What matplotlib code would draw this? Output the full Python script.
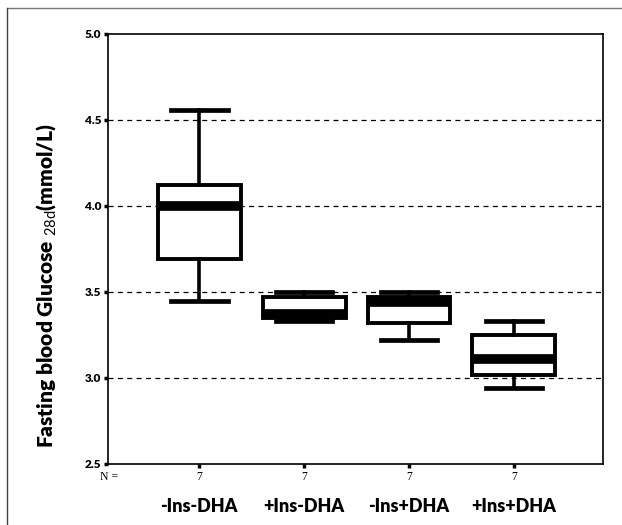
import matplotlib
matplotlib.use("Agg")
import matplotlib.pyplot as plt
from matplotlib.lines import Line2D

categories = ["-Ins-DHA", "+Ins-DHA", "-Ins+DHA", "+Ins+DHA"]
n_values = [7, 7, 7, 7]
whisker_low = [3.45, 3.33, 3.22, 2.94]
q1 = [3.69, 3.35, 3.32, 3.02]
median = [4.00, 3.37, 3.44, 3.11]
q3 = [4.12, 3.47, 3.47, 3.25]
whisker_high = [4.56, 3.50, 3.50, 3.33]
yticks = [2.5, 3.0, 3.5, 4.0, 4.5, 5.0]
grid_levels = [3.0, 3.5, 4.0, 4.5]

plt.rcParams['mathtext.fontset'] = 'custom'
plt.rcParams['mathtext.rm'] = 'Lato'
plt.rcParams['mathtext.bf'] = 'Lato:bold'

fig = plt.figure(figsize=(6.22, 5.25), dpi=100)
ax = fig.add_axes([108/622, 1-464/525, (603-108)/622, (464-34)/525])

# outer frame (top and left only)
fig.add_artist(Line2D([8/622, 1.0], [1-8/525, 1-8/525], transform=fig.transFigure,
                      color='#777777', linewidth=1.0))
fig.add_artist(Line2D([7/622, 7/622], [0.0, 1-8/525], transform=fig.transFigure,
                      color='#444444', linewidth=1.0))

stats = []
for i, c in enumerate(categories):
    stats.append(dict(label=c, whislo=whisker_low[i], q1=q1[i], med=median[i],
                      q3=q3[i], whishi=whisker_high[i], fliers=[]))

positions = list(range(1, len(categories)+1))
ax.bxp(stats, positions=positions, widths=0.79, showfliers=False,
       patch_artist=True,
       boxprops=dict(facecolor='white', edgecolor='black', linewidth=2.8),
       medianprops=dict(color='black', linewidth=7, solid_capstyle='butt'),
       whiskerprops=dict(color='black', linewidth=2.6),
       capprops=dict(color='black', linewidth=3.4),
       capwidths=0.54, zorder=3)

for g in grid_levels:
    ax.axhline(g, color='black', linestyle=(0, (4, 3.5)), linewidth=0.9, zorder=1)

ax.set_xlim(0.13, 4.85)
ax.set_ylim(2.5, 5.0)
ax.set_yticks(yticks)
ax.set_yticklabels([f"{t:.1f}" for t in yticks], fontsize=8.5, fontweight='heavy',
                   family='Lato')
ax.set_xticks(positions)
ax.set_xticklabels([""] * len(categories))
ax.tick_params(axis='both', direction='out', length=3, width=2.5, color='black')
ax.tick_params(axis='y', pad=2)
for s in ax.spines.values():
    s.set_linewidth(1.2)
    s.set_color('black')

# N row
fig.text(100/622, 1-477/525, "N =", ha='left', va='center',
         fontsize=8.5, family='Liberation Serif')
for p, n, c in zip(positions, n_values, categories):
    ax.text(p, 2.5 - 0.0305*2.5, str(n), ha='center', va='center', fontsize=8.5,
            family='Liberation Serif')
    ax.text(p, 2.5 - 0.098*2.5, c, ha='center', va='center', fontsize=13,
            fontweight='heavy', family='Lato')

fig.text(46/622, 1-285/525,
         r"Fasting blood Glucose $\mathrm{_{28d}}$(mmol/L)",
         rotation=90, ha='center', va='center', fontsize=15, fontweight='heavy',
         family='Lato')

fig.savefig("out.png", dpi=100)
